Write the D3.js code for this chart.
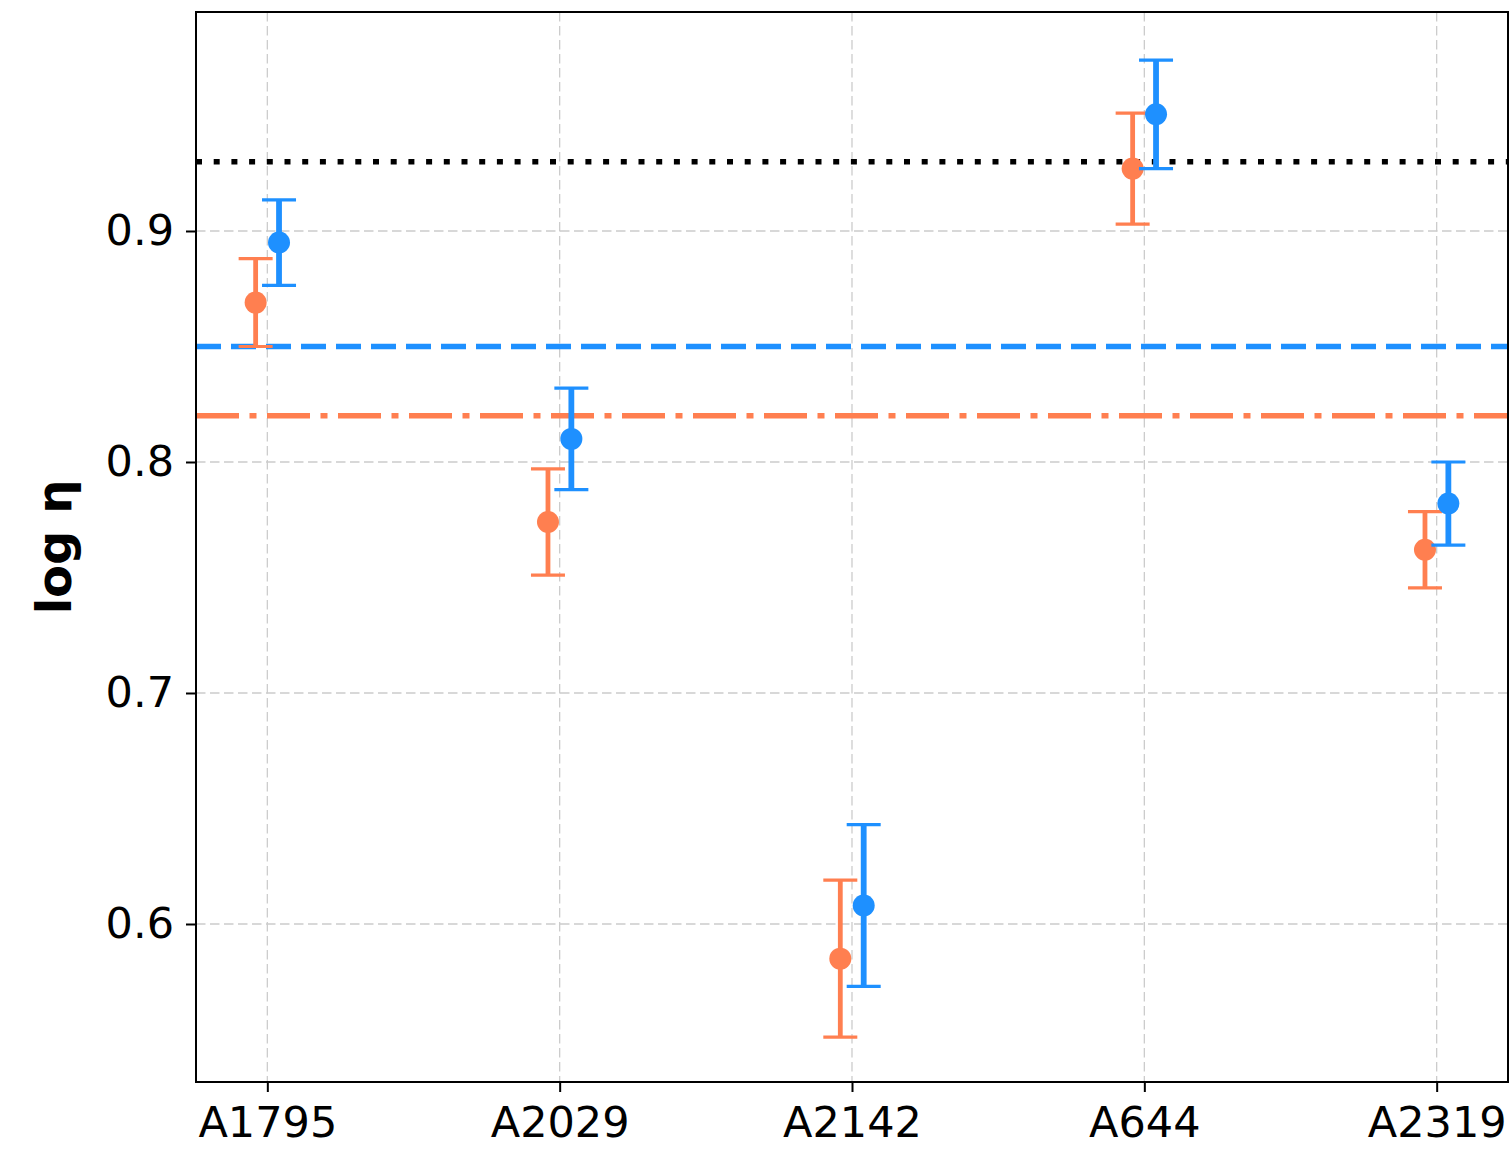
<!DOCTYPE html>
<html><head><meta charset="utf-8">
<script src="https://cdn.jsdelivr.net/npm/d3@7"></script>
<style>body{margin:0;background:#fff}svg{display:block}text{font-family:"DejaVu Sans",sans-serif}</style>
</head><body>
<svg id="c" width="1510" height="1149"></svg>
<script>
const categories = ["A1795","A2029","A2142","A644","A2319"];
const orangeVals = [0.869, 0.774, 0.585, 0.927, 0.762];
const orangeErr  = [0.019, 0.023, 0.034, 0.024, 0.0165];
const blueVals   = [0.895, 0.810, 0.608, 0.9505, 0.782];
const blueErr    = [0.0185, 0.022, 0.035, 0.0235, 0.018];
const refBlack = 0.930, refBlue = 0.850, refOrange = 0.820;
const yTicks = [0.6, 0.7, 0.8, 0.9];
const offset = 0.04;

const svg = d3.select("#c");
const L = 196, R = 1508, T = 12, B = 1082;
const x = d3.scaleLinear().domain([-0.244, 4.244]).range([L, R]);
const y = d3.scaleLinear().domain([0.5316, 0.9948]).range([B, T]);
const ORANGE = "#FF7F50", BLUE = "#1E90FF";

const g = svg.append("g");
// grid
g.selectAll(".gx").data(categories).enter().append("line")
  .attr("x1",(d,i)=>x(i)).attr("x2",(d,i)=>x(i)).attr("y1",T).attr("y2",B)
  .attr("stroke","#cccccc").attr("stroke-width",1.3).attr("stroke-dasharray","9.5,4.5");
g.selectAll(".gy").data(yTicks).enter().append("line")
  .attr("x1",L).attr("x2",R).attr("y1",d=>y(d)).attr("y2",d=>y(d))
  .attr("stroke","#cccccc").attr("stroke-width",1.3).attr("stroke-dasharray","9.5,4.5");

// reference lines
g.append("line").attr("x1",L).attr("x2",R).attr("y1",y(refBlack)).attr("y2",y(refBlack))
  .attr("stroke","#000").attr("stroke-width",5.5).attr("stroke-dasharray","6,11.7");
g.append("line").attr("x1",L).attr("x2",R).attr("y1",y(refBlue)).attr("y2",y(refBlue))
  .attr("stroke",BLUE).attr("stroke-width",5.5).attr("stroke-dasharray","25,10");
g.append("line").attr("x1",L).attr("x2",R).attr("y1",y(refOrange)).attr("y2",y(refOrange))
  .attr("stroke",ORANGE).attr("stroke-width",5.5).attr("stroke-dasharray","43,10.5,7,10.5");

function series(vals, errs, color, dx, sw){
  const s = g.append("g");
  vals.forEach((v,i)=>{
    const cx = x(i+dx);
    s.append("line").attr("x1",cx).attr("x2",cx).attr("y1",y(v-errs[i])).attr("y2",y(v+errs[i]))
      .attr("stroke",color).attr("stroke-width",sw);
    [v-errs[i], v+errs[i]].forEach(e=>{
      s.append("line").attr("x1",cx-17).attr("x2",cx+17).attr("y1",y(e)).attr("y2",y(e))
        .attr("stroke",color).attr("stroke-width",3.2);
    });
    s.append("circle").attr("cx",cx).attr("cy",y(v)).attr("r",11).attr("fill",color);
  });
}
series(orangeVals, orangeErr, ORANGE, -offset, 4.8);
series(blueVals, blueErr, BLUE, offset, 5.8);

// axes
const xAxis = d3.axisBottom(x).tickValues(categories.map((d,i)=>i)).tickFormat(i=>categories[i]).tickSize(10).tickPadding(14);
const yAxis = d3.axisLeft(y).tickValues(yTicks).tickFormat(d3.format(".1f")).tickSize(10).tickPadding(12);
const ax = svg.append("g").attr("transform",`translate(0,${B})`).call(xAxis);
const ay = svg.append("g").attr("transform",`translate(${L},0)`).call(yAxis);
[ax,ay].forEach(a=>{
  a.select(".domain").remove();
  a.selectAll(".tick line").attr("stroke","#000").attr("stroke-width",2);
  a.selectAll(".tick text").attr("fill","#000").style("font-size","43px").style("font-family","DejaVu Sans");
});
svg.append("rect").attr("x",L).attr("y",T).attr("width",R-L).attr("height",B-T)
  .attr("fill","none").attr("stroke","#000").attr("stroke-width",2);

svg.append("text").attr("transform",`translate(71,${(T+B)/2}) rotate(-90)`)
  .attr("text-anchor","middle").style("font-size","48px").style("font-weight","bold").text("log η");
</script>
</body></html>
